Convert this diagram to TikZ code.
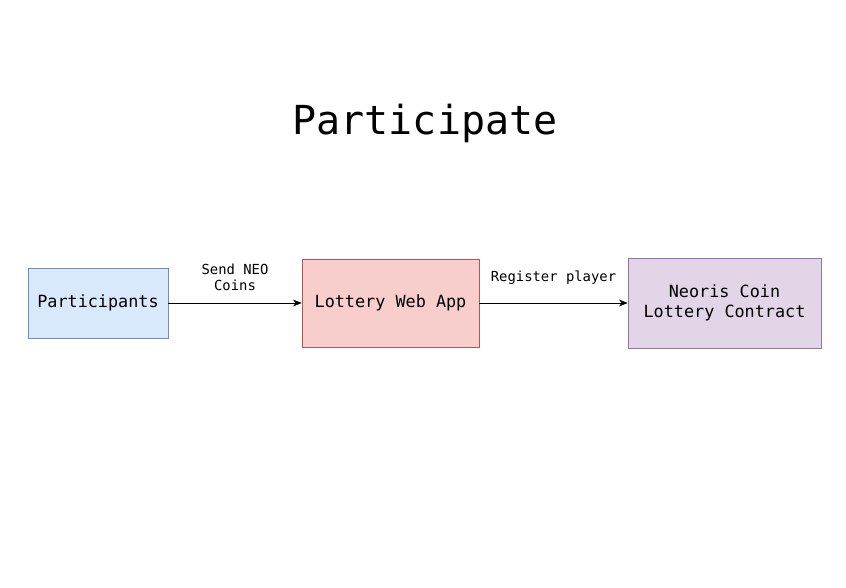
\documentclass[tikz,border=0pt]{standalone}
\usepackage{fontspec}
\setmonofont{DejaVu Sans Mono}
\usepackage{tikz}
\usetikzlibrary{positioning,arrows.meta}
\definecolor{partfill}{HTML}{DAE8FC}
\definecolor{partline}{HTML}{6C8EBF}
\definecolor{appfill}{HTML}{F8CECC}
\definecolor{appline}{HTML}{B85450}
\definecolor{contrfill}{HTML}{E1D5E7}
\definecolor{contrline}{HTML}{9673A6}
\tikzstyle{flow}=[
  >={Stealth[length=6.5pt,width=5pt,inset=2pt]}, x=0.75pt, y=-0.75pt, font=\ttfamily
]
\tikzstyle{box}=[
  draw, rectangle, inner sep=0pt, align=center, font=\ttfamily\fontsize{12.6}{15}\selectfont
]
\tikzstyle{msg}=[
  align=center, font=\ttfamily\fontsize{10.4}{12}\selectfont
]

\begin{document}
\begin{tikzpicture}[flow]
      \useasboundingbox (0,0) rectangle (846,587);
      \node (title) at (425,123) {\fontsize{30}{36}\selectfont Participate};
      \node (part) at (98,303) [box, fill=partfill, draw=partline,
        minimum width=105pt, minimum height=52.5pt] {Participants};
      \node (app) at (390.5,303) [box, fill=appfill, draw=appline,
        minimum width=132.75pt, minimum height=66pt] {Lottery Web App};
      \node (contr) at (724.5,303) [box, fill=contrfill, draw=contrline,
        minimum width=144.75pt, minimum height=67.5pt] {Neoris Coin\\Lottery Contract};
      \draw [->] (part) -- node [msg, above=5.5pt] {Send NEO\\Coins} (app);
      \draw [->] (app) -- node [msg, above=10pt] {Register player} (contr);
    \end{tikzpicture}
\end{document}
